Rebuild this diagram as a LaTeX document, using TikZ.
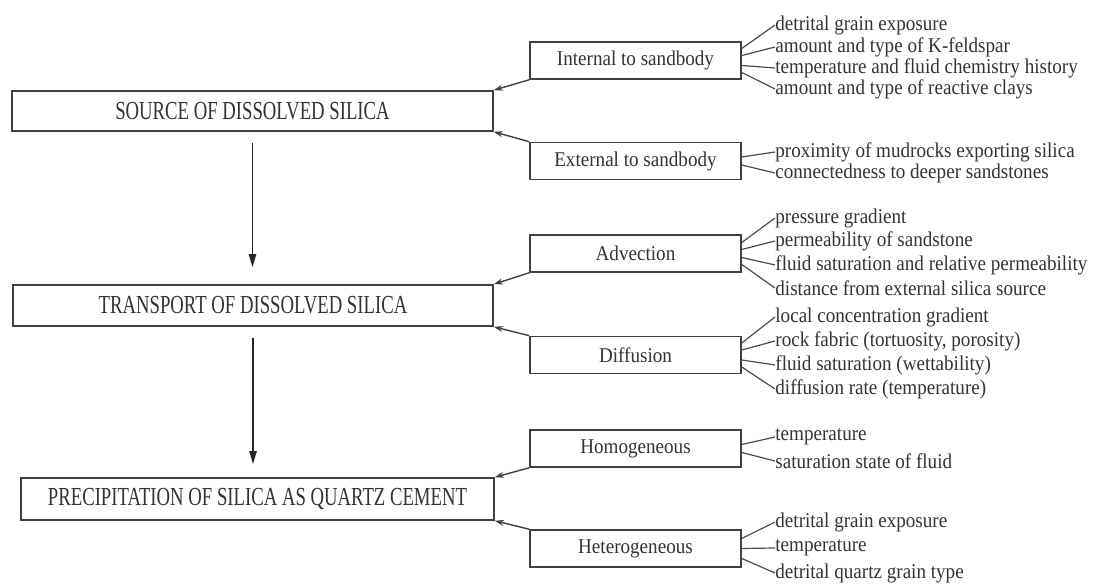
\documentclass[tikz,border=0pt]{standalone}
\usepackage{fontspec}
\setmainfont{Liberation Serif}
\newfontfamily\capsfont[FakeStretch=0.72]{Liberation Serif}
\newfontfamily\itemfont[FakeStretch=0.91]{Liberation Serif}
\usetikzlibrary{arrows.meta}
\begin{document}
\begin{tikzpicture}[x=0.5pt,y=-0.5pt,
  mainbox/.style={draw=black!75, line width=0.8pt, inner sep=0pt, text=black!80,
    font=\capsfont\fontsize{13}{15}\selectfont},
  sidebox/.style={draw=black!75, line width=0.8pt, inner sep=0pt, text=black!80,
    minimum width=105.5pt, minimum height=18.5pt,
    font=\itemfont\fontsize{10.5}{12}\selectfont},
  item/.style={anchor=west, inner sep=0pt, text=black!80,
    font=\itemfont\fontsize{10.5}{12}\selectfont},
  lead/.style={draw=black!70, line width=0.6pt},
  sidearrow/.style={draw=black!75, line width=0.7pt, -{Stealth[length=4.5pt,width=3pt]}},
  mainarrow/.style={draw=black!85, line width=0.9pt, -{Triangle[length=6.5pt,width=3.6pt]}}
]
\useasboundingbox (0,0) rectangle (1100,587);

% main boxes
\node[mainbox, minimum width=240.5pt, minimum height=20pt] (src) at (252.5,111) {SOURCE OF DISSOLVED SILICA};
\node[mainbox, minimum width=240pt, minimum height=20.5pt] (trn) at (253,305.5) {TRANSPORT OF DISSOLVED SILICA};
\node[mainbox, minimum width=236.5pt, minimum height=21pt] (prc) at (257.5,499) {PRECIPITATION OF SILICA AS QUARTZ CEMENT};

% vertical arrows
\draw[mainarrow, shorten <=5.5pt, shorten >=8.5pt] (src.south) -- (src.south |- trn.north);
\draw[mainarrow, shorten <=5.5pt, shorten >=6.5pt] (trn.south) -- (trn.south |- prc.north);

% side boxes
\node[sidebox] (int) at (635.5,60.5) {Internal to sandbody};
\node[sidebox] (ext) at (635.5,161) {External to sandbody};
\node[sidebox] (adv) at (635.5,253.5) {Advection};
\node[sidebox] (dif) at (635.5,355) {Diffusion};
\node[sidebox] (hom) at (635.5,448.5) {Homogeneous};
\node[sidebox] (het) at (635.5,548.5) {Heterogeneous};

% side arrows
\draw[sidearrow] (int.south west) -- (src.north east);
\draw[sidearrow] (ext.north west) -- (src.south east);
\draw[sidearrow] (adv.south west) -- (trn.north east);
\draw[sidearrow] (dif.north west) -- (trn.south east);
\draw[sidearrow] (hom.south west) -- (prc.north east);
\draw[sidearrow] (het.north west) -- (prc.south east);

% items: internal
\node[item] (i1) at (775,25) {detrital grain exposure};
\node[item] (i2) at (775,47) {amount and type of K-feldspar};
\node[item] (i3) at (775,68) {temperature and fluid chemistry history};
\node[item] (i4) at (775,89) {amount and type of reactive clays};
\draw[lead] ([yshift=6pt]int.east) -- (i1.west);
\draw[lead] ([yshift=2.5pt]int.east) -- (i2.west);
\draw[lead] ([yshift=-2.5pt]int.east) -- (i3.west);
\draw[lead] ([yshift=-6pt]int.east) -- (i4.west);

% items: external
\node[item] (e1) at (775,152) {proximity of mudrocks exporting silica};
\node[item] (e2) at (775,173) {connectedness to deeper sandstones};
\draw[lead] ([yshift=2pt]ext.east) -- (e1.west);
\draw[lead] ([yshift=-2pt]ext.east) -- (e2.west);

% items: advection
\node[item] (a1) at (775,218) {pressure gradient};
\node[item] (a2) at (775,241) {permeability of sandstone};
\node[item] (a3) at (775,265) {fluid saturation and relative permeability};
\node[item] (a4) at (775,288) {distance from external silica source};
\draw[lead] ([yshift=5.5pt]adv.east) -- (a1.west);
\draw[lead] ([yshift=2pt]adv.east) -- (a2.west);
\draw[lead] ([yshift=-2pt]adv.east) -- (a3.west);
\draw[lead] ([yshift=-5.5pt]adv.east) -- (a4.west);

% items: diffusion
\node[item] (d1) at (775,317) {local concentration gradient};
\node[item] (d2) at (775,341) {rock fabric (tortuosity, porosity)};
\node[item] (d3) at (775,365) {fluid saturation (wettability)};
\node[item] (d4) at (775,389) {diffusion rate (temperature)};
\draw[lead] ([yshift=6pt]dif.east) -- (d1.west);
\draw[lead] ([yshift=2.5pt]dif.east) -- (d2.west);
\draw[lead] ([yshift=-2.5pt]dif.east) -- (d3.west);
\draw[lead] ([yshift=-6pt]dif.east) -- (d4.west);

% items: homogeneous
\node[item] (h1) at (775,437) {temperature};
\node[item] (h2) at (775,461) {saturation state of fluid};
\draw[lead] ([yshift=2pt]hom.east) -- (h1.west);
\draw[lead] ([yshift=-2pt]hom.east) -- (h2.west);

% items: heterogeneous
\node[item] (g1) at (775,522) {detrital grain exposure};
\node[item] (g2) at (775,548) {temperature};
\node[item] (g3) at (775,573) {detrital quartz grain type};
\draw[lead] ([yshift=5pt]het.east) -- (g1.west);
\draw[lead] (het.east) -- (g2.west);
\draw[lead] ([yshift=-5pt]het.east) -- (g3.west);
\end{tikzpicture}
\end{document}
